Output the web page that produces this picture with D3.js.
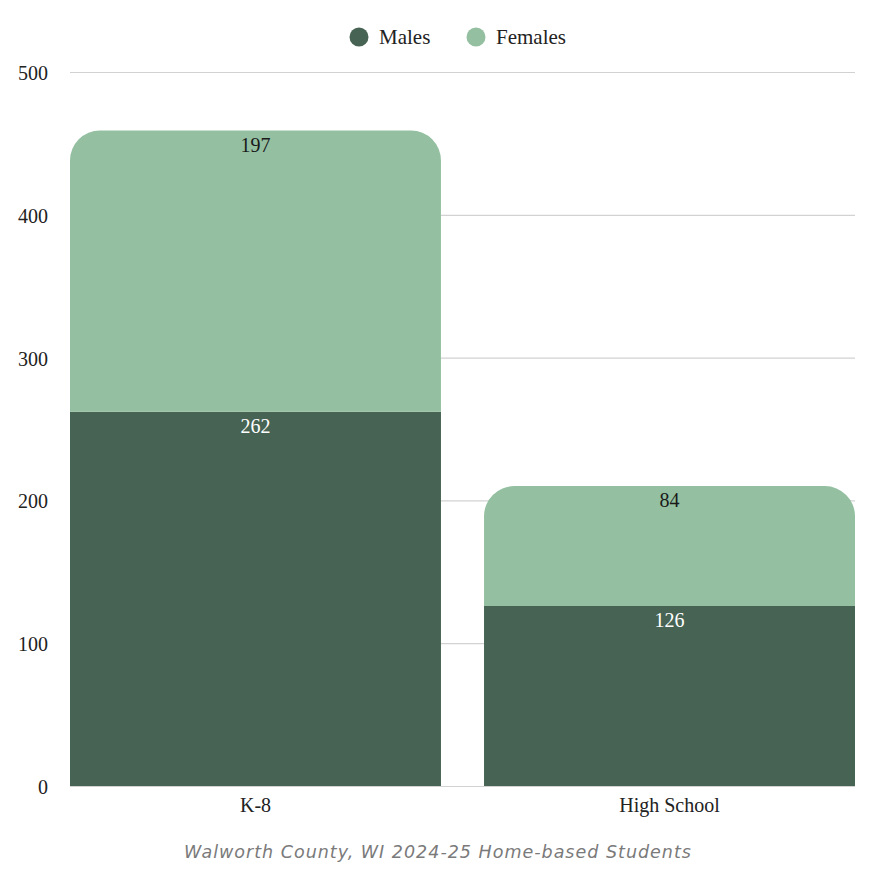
<!DOCTYPE html>
<html lang="en">
  <head>
    <meta charset="UTF-8" />
    <title>Walworth County Home-based Students</title>
    <script src="https://cdnjs.cloudflare.com/ajax/libs/d3/7.8.5/d3.min.js"></script>
    <style>
      body { margin: 0; background: #fff; }
      svg text { font-family: "Liberation Serif", serif; }
    </style>
  </head>
  <body>
    <div id="chart"></div>
    <script>
      /** Data */
      const categories = ["K-8", "High School"];
      const males = [262, 126];
      const females = [197, 84];
      const seriesNames = ["Males", "Females"];
      const yTicks = [0, 100, 200, 300, 400, 500];

      /** Config */
      const width = 875;
      const height = 875;
      const plotLeft = 70, plotRight = 855, plotTop = 72, plotBottom = 786;
      const colors = ["#476353", "#94c0a1"];
      const radius = 30;
      const fontSize = 20;

      const rows = categories.map((c, i) => ({ cat: c, Males: males[i], Females: females[i] }));
      const stack = d3.stack().keys(seriesNames)(rows);

      const x = d3.scaleBand().domain(categories).range([plotLeft, plotRight])
        .paddingInner(0.104).paddingOuter(0);
      const y = d3.scaleLinear().domain([0, 500]).range([plotBottom, plotTop]);

      const svg = d3.select("#chart").append("svg")
        .attr("width", width).attr("height", height);

      /** Gridlines */
      svg.append("g").selectAll("line").data(yTicks).join("line")
        .attr("x1", plotLeft).attr("x2", plotRight)
        .attr("y1", d => y(d) + 0.5).attr("y2", d => y(d) + 0.5)
        .attr("stroke", "#d2d2d2")
        .attr("stroke-width", 1.2);

      /** Y axis labels */
      const yAxis = d3.axisLeft(y).tickValues(yTicks).tickSize(0).tickPadding(0);
      const yg = svg.append("g").attr("transform", `translate(${plotLeft - 22},1)`).call(yAxis);
      yg.select(".domain").remove();
      yg.selectAll("text").attr("font-size", fontSize).attr("fill", "#222")
        .style("font-family", "'Liberation Serif', serif");

      /** Bars */
      function segPath(x0, w, y0, y1, r) {
        // y0 = top, y1 = bottom
        if (!r) return `M${x0},${y1}V${y0}H${x0 + w}V${y1}Z`;
        return `M${x0},${y1}V${y0 + r}A${r},${r} 0 0 1 ${x0 + r},${y0}` +
          `H${x0 + w - r}A${r},${r} 0 0 1 ${x0 + w},${y0 + r}V${y1}Z`;
      }

      stack.forEach((layer, li) => {
        const g = svg.append("g");
        g.selectAll("path").data(layer).join("path")
          .attr("d", d => segPath(x(d.data.cat), x.bandwidth(), y(d[1]), y(d[0]),
            li === stack.length - 1 ? radius : 0))
          .attr("fill", colors[li]);
        g.selectAll("text").data(layer).join("text")
          .attr("x", d => x(d.data.cat) + x.bandwidth() / 2)
          .attr("y", d => y(d[1]) + 21)
          .attr("text-anchor", "middle")
          .attr("font-size", fontSize)
          .attr("fill", li === 0 ? "#fff" : "#1a1a1a")
          .text(d => d[1] - d[0]);
      });

      /** X axis labels */
      const xAxis = d3.axisBottom(x).tickSize(0).tickPadding(0);
      const xg = svg.append("g").attr("transform", `translate(0,${plotBottom + 26})`).call(xAxis);
      xg.select(".domain").remove();
      xg.selectAll("text").attr("font-size", fontSize).attr("fill", "#222").attr("dy", 0)
        .style("font-family", "'Liberation Serif', serif");

      /** Legend */
      const legendX = [359, 476];
      const lg = svg.append("g").selectAll("g").data(seriesNames).join("g")
        .attr("transform", (d, i) => `translate(${legendX[i]},37)`);
      lg.append("circle").attr("r", 9.5).attr("fill", (d, i) => colors[i]);
      lg.append("text").attr("x", 20).attr("y", 7).attr("font-size", 21)
        .attr("fill", "#222").text(d => d);

      /** Caption */
      svg.append("text")
        .attr("x", 438).attr("y", 858)
        .attr("text-anchor", "middle")
        .style("font-family", "'DejaVu Sans', sans-serif")
        .style("font-style", "italic")
        .style("letter-spacing", "1px")
        .attr("font-size", 17.5).attr("fill", "#7a7a7a")
        .text("Walworth County, WI 2024-25 Home-based Students");
    </script>
  </body>
</html>
